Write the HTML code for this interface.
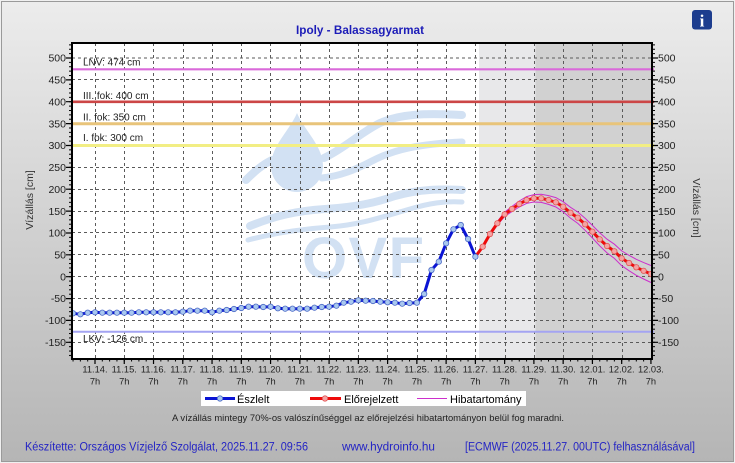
<!DOCTYPE html>
<html><head><meta charset="utf-8"><style>
html,body{margin:0;padding:0;background:#f0f0f0;}
svg{display:block;font-family:"Liberation Sans",sans-serif;}
</style></head><body>
<svg width="735" height="463" viewBox="0 0 735 463" xmlns="http://www.w3.org/2000/svg">
<defs>
<linearGradient id="bg" x1="0" y1="0" x2="0" y2="1">
<stop offset="0" stop-color="#ececec"/><stop offset="1" stop-color="#b5b5b5"/>
</linearGradient>
<pattern id="ltk" patternUnits="userSpaceOnUse" x="0" y="276.2" width="10" height="4.374"><rect x="0" y="0" width="10" height="1" fill="#000"/></pattern>
<pattern id="btk" patternUnits="userSpaceOnUse" x="94.5" y="0" width="7.315" height="10"><rect x="0" y="0" width="1" height="10" fill="#000"/></pattern>
<clipPath id="pc"><rect x="72" y="43" width="580" height="316"/></clipPath>
</defs>
<rect x="1.5" y="1.5" width="732" height="460" fill="url(#bg)" stroke="#9a9a9a" stroke-width="1"/>

<!-- plot area -->
<rect x="72" y="43" width="580" height="316" fill="#ffffff"/>
<rect x="479" y="43" width="57" height="316" fill="#e8e8ea"/>
<rect x="535.5" y="43" width="117" height="316" fill="#d1d1d1"/>

<!-- watermark -->
<g fill="#d2e1f3" stroke="none" clip-path="url(#pc)">
<path d="M297,113 C304,130 323,146 323,166 A26,26 0 0 1 271,166 C271,146 290,130 297,113 Z"/>
<text x="302" y="278" font-size="58" font-weight="bold" font-family="Liberation Sans,sans-serif" textLength="122">OVF</text>
</g>
<g fill="none" stroke="#d2e1f3" stroke-linecap="round" clip-path="url(#pc)">
<path d="M324,158 C345,148 360,133 380,123 C400,114 425,113 462,115" stroke-width="8"/>
<path d="M322,178 C340,176 355,170 372,161 C395,149 420,144 462,142" stroke-width="7"/>
<path d="M250,226 C275,216 295,211 325,209 C355,207 375,203 395,196 C420,189 440,189 462,190" stroke-width="8"/>
<path d="M248,240 C275,233 300,229 330,227 C360,225 385,216 410,209 C430,203 445,201 462,202" stroke-width="5"/>
<path d="M246,180 C255,171 262,165 272,160" stroke-width="8"/>
</g>

<!-- grid -->
<g stroke="#5a5a5a" stroke-width="1" stroke-dasharray="3,3" fill="none">
<path d="M72,342.5H652M72,320.5H652M72,298.5H652M72,276.5H652M72,254.5H652M72,232.5H652M72,211.5H652M72,189.5H652M72,167.5H652M72,145.5H652M72,123.5H652M72,101.5H652M72,79.5H652M72,58H652"/>
<path d="M95.5,43V359M124.5,43V359M153.5,43V359M183.5,43V359M212.5,43V359M241.5,43V359M270.5,43V359M300.5,43V359M329.5,43V359M358.5,43V359M387.5,43V359M417.5,43V359M446.5,43V359M475.5,43V359M505.5,43V359M534.5,43V359M563.5,43V359M592.5,43V359M622.5,43V359"/>
</g>

<!-- reference lines -->
<line x1="72" y1="69.3" x2="654" y2="69.3" stroke="#da6ada" stroke-width="2.2"/>
<line x1="72" y1="101.8" x2="654" y2="101.8" stroke="#cc4646" stroke-width="2.6"/>
<line x1="72" y1="123.7" x2="654" y2="123.7" stroke="#e8c47a" stroke-width="3"/>
<line x1="72" y1="145.5" x2="654" y2="145.5" stroke="#f2ee84" stroke-width="3"/>
<line x1="72" y1="331.8" x2="654" y2="331.8" stroke="#a4a4f2" stroke-width="2"/>
<g font-size="10" fill="#222">
<text x="83" y="65.5">LNV: 474 cm</text>
<text x="83" y="99">III. fok: 400 cm</text>
<text x="83" y="120.5">II. fok: 350 cm</text>
<text x="83" y="141">I. fok: 300 cm</text>
<text x="83" y="342">LKV: -126 cm</text>
</g>

<!-- error band -->
<g fill="none" stroke="#cc2fcc" stroke-width="1">
<polyline points="475.38,256.7 482.70,245.9 490.01,232.7 497.33,221.5 504.64,212.1 511.96,206.4 519.27,201.0 526.59,196.6 533.90,194.6 541.22,194.2 548.53,195.6 555.85,197.6 563.16,201.7 570.48,207.3 577.79,212.0 585.11,218.3 592.42,225.4 599.74,232.7 607.05,239.2 614.37,244.2 621.68,250.9 629.00,255.3 636.31,259.3 643.63,262.6 650.94,265.5"/>
<polyline points="475.38,256.7 482.70,247.5 490.01,235.3 497.33,225.1 504.64,216.5 511.96,211.6 519.27,207.0 526.59,203.4 533.90,202.0 541.22,202.4 548.53,204.4 555.85,207.0 563.16,211.8 570.48,218.1 577.79,223.4 585.11,230.3 592.42,238.0 599.74,245.9 607.05,252.9 614.37,258.4 621.68,265.7 629.00,270.7 636.31,275.3 643.63,279.0 650.94,282.5"/>
</g>

<!-- forecast -->
<g clip-path="url(#pc)">
<polyline fill="none" stroke="#ee0a0a" stroke-width="3" stroke-linejoin="round" points="475.38,256.7 482.70,246.7 490.01,234 497.33,223.3 504.64,214.3 511.96,209 519.27,204 526.59,200 533.90,198.3 541.22,198.3 548.53,200 555.85,202.3 563.16,206.7 570.48,212.7 577.79,217.7 585.11,224.3 592.42,231.7 599.74,239.3 607.05,246 614.37,251.3 621.68,258.3 629.00,263 636.31,267.3 643.63,270.8 650.94,274"/>
<g fill="#f5a3a3" stroke="#e25454" stroke-width="0.8">
<circle cx="482.70" cy="246.7" r="2.7"/><circle cx="490.01" cy="234" r="2.7"/><circle cx="497.33" cy="223.3" r="2.7"/><circle cx="504.64" cy="214.3" r="2.7"/><circle cx="511.96" cy="209" r="2.7"/><circle cx="519.27" cy="204" r="2.7"/><circle cx="526.59" cy="200" r="2.7"/><circle cx="533.90" cy="198.3" r="2.7"/><circle cx="541.22" cy="198.3" r="2.7"/><circle cx="548.53" cy="200" r="2.7"/><circle cx="555.85" cy="202.3" r="2.7"/><circle cx="563.16" cy="206.7" r="2.7"/><circle cx="570.48" cy="212.7" r="2.7"/><circle cx="577.79" cy="217.7" r="2.7"/><circle cx="585.11" cy="224.3" r="2.7"/><circle cx="592.42" cy="231.7" r="2.7"/><circle cx="599.74" cy="239.3" r="2.7"/><circle cx="607.05" cy="246" r="2.7"/><circle cx="614.37" cy="251.3" r="2.7"/><circle cx="621.68" cy="258.3" r="2.7"/><circle cx="629.00" cy="263" r="2.7"/><circle cx="636.31" cy="267.3" r="2.7"/><circle cx="643.63" cy="270.8" r="2.7"/><circle cx="650.94" cy="274" r="2.7"/>
</g>

<!-- observed -->
<polyline fill="none" stroke="#0a14d4" stroke-width="3" stroke-linejoin="round" points="73.05,313.3 80.37,314.3 87.69,312.7 95.00,312.3 102.32,312.7 109.63,312.7 116.94,312.7 124.26,312.7 131.57,312.7 138.89,312.3 146.20,312.3 153.52,312.3 160.83,312.3 168.15,312.3 175.46,312.3 182.78,311.7 190.09,310.7 197.41,310.7 204.72,310.7 212.04,312.3 219.35,310.7 226.67,310 233.98,309 241.30,308 248.61,306.7 255.93,306.7 263.24,307 270.56,306.7 277.87,308.3 285.19,308.7 292.50,308.7 299.82,308.7 307.13,308.7 314.45,307.7 321.76,307 329.08,306.7 336.39,305.7 343.71,302.7 351.02,301.7 358.34,300.3 365.65,300.7 372.97,301 380.28,301.7 387.60,302.3 394.91,302.7 402.23,303.7 409.54,303 416.86,302.7 424.17,294 431.49,270 438.80,261.7 446.12,243.3 453.43,229.3 460.75,225 468.06,239 475.38,256.7"/>
<g fill="#a9c8ef" stroke="#4a68c6" stroke-width="0.8">
<circle cx="73.05" cy="313.3" r="2.7"/><circle cx="80.37" cy="314.3" r="2.7"/><circle cx="87.69" cy="312.7" r="2.7"/><circle cx="95.00" cy="312.3" r="2.7"/><circle cx="102.32" cy="312.7" r="2.7"/><circle cx="109.63" cy="312.7" r="2.7"/><circle cx="116.94" cy="312.7" r="2.7"/><circle cx="124.26" cy="312.7" r="2.7"/><circle cx="131.57" cy="312.7" r="2.7"/><circle cx="138.89" cy="312.3" r="2.7"/><circle cx="146.20" cy="312.3" r="2.7"/><circle cx="153.52" cy="312.3" r="2.7"/><circle cx="160.83" cy="312.3" r="2.7"/><circle cx="168.15" cy="312.3" r="2.7"/><circle cx="175.46" cy="312.3" r="2.7"/><circle cx="182.78" cy="311.7" r="2.7"/><circle cx="190.09" cy="310.7" r="2.7"/><circle cx="197.41" cy="310.7" r="2.7"/><circle cx="204.72" cy="310.7" r="2.7"/><circle cx="212.04" cy="312.3" r="2.7"/><circle cx="219.35" cy="310.7" r="2.7"/><circle cx="226.67" cy="310" r="2.7"/><circle cx="233.98" cy="309" r="2.7"/><circle cx="241.30" cy="308" r="2.7"/><circle cx="248.61" cy="306.7" r="2.7"/><circle cx="255.93" cy="306.7" r="2.7"/><circle cx="263.24" cy="307" r="2.7"/><circle cx="270.56" cy="306.7" r="2.7"/><circle cx="277.87" cy="308.3" r="2.7"/><circle cx="285.19" cy="308.7" r="2.7"/><circle cx="292.50" cy="308.7" r="2.7"/><circle cx="299.82" cy="308.7" r="2.7"/><circle cx="307.13" cy="308.7" r="2.7"/><circle cx="314.45" cy="307.7" r="2.7"/><circle cx="321.76" cy="307" r="2.7"/><circle cx="329.08" cy="306.7" r="2.7"/><circle cx="336.39" cy="305.7" r="2.7"/><circle cx="343.71" cy="302.7" r="2.7"/><circle cx="351.02" cy="301.7" r="2.7"/><circle cx="358.34" cy="300.3" r="2.7"/><circle cx="365.65" cy="300.7" r="2.7"/><circle cx="372.97" cy="301" r="2.7"/><circle cx="380.28" cy="301.7" r="2.7"/><circle cx="387.60" cy="302.3" r="2.7"/><circle cx="394.91" cy="302.7" r="2.7"/><circle cx="402.23" cy="303.7" r="2.7"/><circle cx="409.54" cy="303" r="2.7"/><circle cx="416.86" cy="302.7" r="2.7"/><circle cx="424.17" cy="294" r="2.7"/><circle cx="431.49" cy="270" r="2.7"/><circle cx="438.80" cy="261.7" r="2.7"/><circle cx="446.12" cy="243.3" r="2.7"/><circle cx="453.43" cy="229.3" r="2.7"/><circle cx="460.75" cy="225" r="2.7"/><circle cx="468.06" cy="239" r="2.7"/><circle cx="475.38" cy="256.7" r="2.7"/>
</g>
</g>

<!-- axes frame -->
<rect x="72" y="43" width="580" height="316" fill="none" stroke="#000" stroke-width="2"/>
<rect x="69" y="44" width="3" height="314" fill="url(#ltk)"/>
<rect x="652" y="44" width="3" height="314" fill="url(#ltk)"/>
<path stroke="#000" stroke-width="1.2" fill="none" d="M66,342.3h6M66,320.4h6M66,298.6h6M66,276.7h6M66,254.8h6M66,233h6M66,211.1h6M66,189.2h6M66,167.4h6M66,145.5h6M66,123.6h6M66,101.7h6M66,79.9h6M66,58h6 M652,342.3h6M652,320.4h6M652,298.6h6M652,276.7h6M652,254.8h6M652,233h6M652,211.1h6M652,189.2h6M652,167.4h6M652,145.5h6M652,123.6h6M652,101.7h6M652,79.9h6M652,58h6"/>
<rect x="72" y="359" width="580" height="2.5" fill="url(#btk)"/>
<path stroke="#000" stroke-width="1.2" fill="none" d="M95,359v5M124.26,359v5M153.52,359v5M182.78,359v5M212.04,359v5M241.3,359v5M270.56,359v5M299.82,359v5M329.08,359v5M358.34,359v5M387.6,359v5M416.86,359v5M446.12,359v5M475.38,359v5M504.64,359v5M533.9,359v5M563.16,359v5M592.42,359v5M621.68,359v5M650.94,359v5"/>

<!-- y labels -->
<g font-size="10.5" fill="#222" text-anchor="end">
<text x="66" y="346">-150</text><text x="66" y="324">-100</text><text x="66" y="302.2">-50</text><text x="66" y="280.4">0</text><text x="66" y="258.5">50</text><text x="66" y="236.6">100</text><text x="66" y="214.8">150</text><text x="66" y="192.9">200</text><text x="66" y="171">250</text><text x="66" y="149.2">300</text><text x="66" y="127.3">350</text><text x="66" y="105.4">400</text><text x="66" y="83.5">450</text><text x="66" y="61.7">500</text>
</g>
<g font-size="10.5" fill="#222">
<text x="658" y="346">-150</text><text x="658" y="324">-100</text><text x="658" y="302.2">-50</text><text x="658" y="280.4">0</text><text x="658" y="258.5">50</text><text x="658" y="236.6">100</text><text x="658" y="214.8">150</text><text x="658" y="192.9">200</text><text x="658" y="171">250</text><text x="658" y="149.2">300</text><text x="658" y="127.3">350</text><text x="658" y="105.4">400</text><text x="658" y="83.5">450</text><text x="658" y="61.7">500</text>
</g>
<text transform="translate(33,200) rotate(-90)" font-size="10.5" fill="#333" text-anchor="middle">Vízállás [cm]</text>
<text transform="translate(693,208) rotate(90)" font-size="10.5" fill="#333" text-anchor="middle">Vízállás [cm]</text>

<!-- x labels -->
<g font-size="9.3" fill="#222" text-anchor="middle">
<text x="95" y="372.5">11.14.</text><text x="124.26" y="372.5">11.15.</text><text x="153.52" y="372.5">11.16.</text><text x="182.78" y="372.5">11.17.</text><text x="212.04" y="372.5">11.18.</text><text x="241.3" y="372.5">11.19.</text><text x="270.56" y="372.5">11.20.</text><text x="299.82" y="372.5">11.21.</text><text x="329.08" y="372.5">11.22.</text><text x="358.34" y="372.5">11.23.</text><text x="387.6" y="372.5">11.24.</text><text x="416.86" y="372.5">11.25.</text><text x="446.12" y="372.5">11.26.</text><text x="475.38" y="372.5">11.27.</text><text x="504.64" y="372.5">11.28.</text><text x="533.9" y="372.5">11.29.</text><text x="563.16" y="372.5">11.30.</text><text x="592.42" y="372.5">12.01.</text><text x="621.68" y="372.5">12.02.</text><text x="650.94" y="372.5">12.03.</text>
<text x="95" y="384.5">7h</text><text x="124.26" y="384.5">7h</text><text x="153.52" y="384.5">7h</text><text x="182.78" y="384.5">7h</text><text x="212.04" y="384.5">7h</text><text x="241.3" y="384.5">7h</text><text x="270.56" y="384.5">7h</text><text x="299.82" y="384.5">7h</text><text x="329.08" y="384.5">7h</text><text x="358.34" y="384.5">7h</text><text x="387.6" y="384.5">7h</text><text x="416.86" y="384.5">7h</text><text x="446.12" y="384.5">7h</text><text x="475.38" y="384.5">7h</text><text x="504.64" y="384.5">7h</text><text x="533.9" y="384.5">7h</text><text x="563.16" y="384.5">7h</text><text x="592.42" y="384.5">7h</text><text x="621.68" y="384.5">7h</text><text x="650.94" y="384.5">7h</text>
</g>

<!-- title -->
<text x="360" y="34" font-size="12" font-weight="bold" fill="#1c1cb8" text-anchor="middle" textLength="128" lengthAdjust="spacingAndGlyphs">Ipoly - Balassagyarmat</text>

<!-- info icon -->
<rect x="692" y="10" width="20" height="19.5" rx="3" fill="#1d3d8e"/>
<text x="702" y="26.5" font-size="17" font-weight="bold" font-family="Liberation Serif,serif" fill="#fff" text-anchor="middle">i</text>

<!-- legend -->
<rect x="201" y="391" width="325" height="15" fill="#fff"/>
<line x1="205" y1="398.5" x2="235" y2="398.5" stroke="#0a14d4" stroke-width="3"/>
<circle cx="220" cy="398.5" r="2.7" fill="#a9c8ef" stroke="#4a68c6" stroke-width="0.8"/>
<line x1="310" y1="398.5" x2="341" y2="398.5" stroke="#ee0a0a" stroke-width="3"/>
<circle cx="325" cy="398.5" r="2.7" fill="#f5a3a3" stroke="#e25454" stroke-width="0.8"/>
<line x1="417" y1="398.5" x2="447" y2="398.5" stroke="#cc2fcc" stroke-width="1"/>
<g font-size="11" fill="#000">
<text x="237" y="403">Észlelt</text>
<text x="344" y="403">Előrejelzett</text>
<text x="450" y="403">Hibatartomány</text>
</g>

<text x="172" y="421" font-size="9.5" fill="#222" textLength="392" lengthAdjust="spacingAndGlyphs">A vízállás mintegy 70%-os valószínűséggel az előrejelzési hibatartományon belül fog maradni.</text>

<g font-size="11.5" fill="#2424c4">
<text x="25" y="450.5" textLength="283" lengthAdjust="spacingAndGlyphs">Készítette: Országos Vízjelző Szolgálat, 2025.11.27. 09:56</text>
<text x="342" y="450.5" textLength="93" lengthAdjust="spacingAndGlyphs">www.hydroinfo.hu</text>
<text x="465" y="450.5" textLength="230" lengthAdjust="spacingAndGlyphs">[ECMWF (2025.11.27. 00UTC) felhasználásával]</text>
</g>
</svg>
</body></html>
